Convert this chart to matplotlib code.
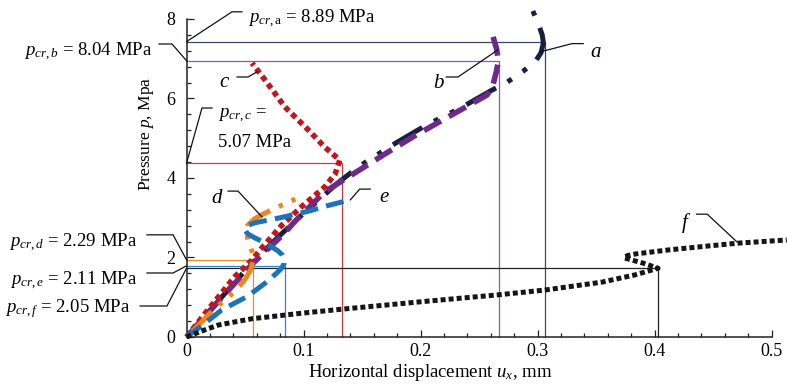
import matplotlib
matplotlib.use("Agg")
import matplotlib.pyplot as plt
from matplotlib.ticker import FixedLocator

plt.rcParams["font.family"] = ["Liberation Serif", "DejaVu Serif"]
plt.rcParams["mathtext.fontset"] = "custom"
plt.rcParams["mathtext.rm"] = "Liberation Serif"
plt.rcParams["mathtext.it"] = "Liberation Serif:italic"
plt.rcParams["lines.scale_dashes"] = False

# ---- load-displacement curves (u_x in mm, p in MPa) ----
ux_a = [0, 0.030, 0.054, 0.075, 0.094, 0.112, 0.129, 0.140, 0.154, 0.180, 0.205, 0.236, 0.261,
        0.274, 0.288, 0.299, 0.303, 0.305, 0.304, 0.301, 0.296]
p_a = [0, 1.00, 1.80, 2.42, 2.95, 3.42, 3.87, 4.12, 4.42, 4.90, 5.33, 5.79, 6.21,
       6.41, 6.69, 6.97, 7.15, 7.40, 7.60, 7.85, 8.20]

ux_b = [0, 0.035, 0.057, 0.084, 0.093, 0.118, 0.151, 0.171, 0.195, 0.219, 0.242, 0.257,
        0.262, 0.265, 0.2665, 0.265, 0.262]
p_b = [0, 1.15, 1.86, 2.62, 2.92, 3.65, 4.26, 4.63, 5.06, 5.46, 5.84, 6.09,
       6.35, 6.70, 6.95, 7.25, 7.55]

ux_c = [0, 0.016, 0.041, 0.056, 0.065, 0.081, 0.098, 0.118, 0.127, 0.131,
        0.118, 0.104, 0.084, 0.067, 0.056]
p_c = [0, 0.60, 1.51, 1.94, 2.26, 2.80, 3.27, 3.77, 4.10, 4.45,
       4.78, 5.21, 5.79, 6.47, 6.89]

ux_d = [0, 0.012, 0.024, 0.035, 0.043, 0.050, 0.055, 0.057, 0.056, 0.053, 0.051,
        0.052, 0.058, 0.066, 0.075, 0.084, 0.093]
p_d = [0, 0.35, 0.72, 0.98, 1.20, 1.45, 1.70, 1.95, 2.15, 2.40, 2.62,
       2.80, 2.97, 3.10, 3.23, 3.35, 3.47]

ux_e = [0, 0.016, 0.030, 0.052, 0.067, 0.076, 0.081, 0.0835, 0.0838, 0.082, 0.078, 0.072,
        0.065, 0.058, 0.052, 0.050, 0.052, 0.058, 0.068, 0.080, 0.092, 0.105, 0.120, 0.140]
p_e = [0, 0.35, 0.68, 1.02, 1.35, 1.58, 1.72, 1.85, 1.95, 2.06, 2.17, 2.28,
       2.40, 2.50, 2.60, 2.70, 2.80, 2.87, 2.93, 3.00, 3.08, 3.17, 3.30, 3.45]

ux_f = [0, 0.013, 0.027, 0.056, 0.099, 0.133, 0.198, 0.266, 0.306, 0.355, 0.383, 0.403,
        0.390, 0.374, 0.377, 0.384, 0.412, 0.446, 0.471, 0.513]
p_f = [0, 0.15, 0.30, 0.46, 0.60, 0.70, 0.88, 1.06, 1.18, 1.38, 1.56, 1.73,
       1.86, 1.99, 2.05, 2.09, 2.19, 2.29, 2.36, 2.44]

# ---- critical points ----
cases = ["a", "b", "c", "d", "e", "f"]
pcr_text = ["8.89", "8.04", "5.07", "2.29", "2.11", "2.05"]
u_cr = [0.306, 0.267, 0.1325, 0.057, 0.0838, 0.403]
p_level = [7.43, 6.95, 4.37, 1.94, 1.79, 1.73]

curve_colors = ["#17203f", "#6e2a8a", "#c1161d", "#f08519", "#1b73ba", "#151515"]
guide_colors = ["#3b4767", "#9058ad", "#cc3c3c", "#f08a22", "#2f86c8", "#222222"]

# dash patterns in points; curves a, b, d are traced from their far end
styles = [
    dict(lw=3.6, ls=(0, (3.6, 9.5, 24.5, 9.5, 3.6, 9.5)), rev=True),
    dict(lw=4.0, ls=(0, (14, 6.5)), rev=True),
    dict(lw=4.0, ls=(0, (4.0, 2.9)), rev=False),
    dict(lw=3.6, ls=(0, (3.0, 7.0, 3.0, 7.0, 20, 7.0)), rev=True),
    dict(lw=3.6, ls=(0, (13, 6))),
    dict(lw=3.6, ls=(0, (3.6, 2.2)), rev=False),
]
curves = [(ux_a, p_a), (ux_b, p_b), (ux_c, p_c), (ux_d, p_d), (ux_e, p_e), (ux_f, p_f)]

fig = plt.figure(figsize=(7.87, 3.85), dpi=100)
ax = fig.add_axes([0.237, 0.1247, 0.7627, 0.857])
ax.set_xlim(0, 0.513)
ax.set_ylim(0, 8.3)

# guide lines marking each critical point
for uc, pl, gc in zip(u_cr, p_level, guide_colors):
    ax.plot([0, uc, uc], [pl, pl, 0], color=gc, lw=0.9, zorder=2, clip_on=False)

draw_order = [5, 4, 3, 0, 1, 2]
for i in draw_order:
    x, y = curves[i]
    if styles[i].get("rev"):
        x, y = x[::-1], y[::-1]
    ax.plot(x, y, color=curve_colors[i], linewidth=styles[i]["lw"],
            linestyle=styles[i]["ls"], dash_capstyle="butt",
            solid_capstyle="butt", zorder=3 + i * 0.1, clip_on=False)

# spines and ticks
for s in ["top", "right"]:
    ax.spines[s].set_visible(False)
ax.spines["left"].set_bounds(0, 8)
ax.spines["bottom"].set_bounds(0, 0.5)
for s in ["left", "bottom"]:
    ax.spines[s].set_linewidth(1.1)
    ax.spines[s].set_color("#222222")

ax.xaxis.set_major_locator(FixedLocator([0, 0.1, 0.2, 0.3, 0.4, 0.5]))
ax.xaxis.set_minor_locator(FixedLocator([i * 0.02 for i in range(26)]))
ax.yaxis.set_major_locator(FixedLocator([0, 2, 4, 6, 8]))
ax.yaxis.set_minor_locator(FixedLocator([i * 0.4 for i in range(21)]))
ax.set_xticklabels(["0", "0.1", "0.2", "0.3", "0.4", "0.5"])
ax.set_yticklabels(["0", "2", "4", "6", "8"])
ax.tick_params(axis="both", which="both", direction="in", color="#222222", width=0.9,
               labelsize=13)
ax.tick_params(axis="both", which="major", length=5)
ax.tick_params(axis="both", which="minor", length=3.2)
ax.tick_params(axis="x", pad=4)
ax.tick_params(axis="y", pad=8)

ax.set_xlabel(r"Horizontal displacement $u_x$, mm", fontsize=13.5)
ax.set_ylabel(r"Pressure $p$, Mpa", fontsize=12.5)
ax.yaxis.set_label_coords(-0.051, 5.1 / 8.3)
ax.xaxis.set_label_coords((430 - 186.5) / 600.0, -0.075)

lk = dict(color="#111111", lw=0.9, clip_on=False, zorder=6)
fs_ann = 13.5

# critical pressure callouts
ax.plot([0, 0.0389, 0.0474], [7.43, 8.18, 8.18], **lk)
ax.text(0.0526, 7.90, r"$p_{cr,\mathrm{a}}$ = %s MPa" % pcr_text[0], fontsize=fs_ann)

ax.plot([0, -0.0124, -0.0235], [6.95, 7.37, 7.37], **lk)
ax.text(-0.0295, 7.07, r"$p_{cr,b}$ = %s MPa" % pcr_text[1], fontsize=fs_ann, ha="right")

ax.plot([0, 0.0132, 0.0218], [4.37, 5.76, 5.76], **lk)
ax.text(0.0269, 5.51, r"$p_{cr,c}$ =", fontsize=fs_ann)
ax.text(0.0269, 4.78, "%s MPa" % pcr_text[2], fontsize=fs_ann)

ax.plot([0, -0.0115, -0.0338], [1.94, 2.57, 2.57], **lk)
ax.text(-0.0423, 2.26, r"$p_{cr,d}$ = %s MPa" % pcr_text[3], fontsize=fs_ann, ha="right")

ax.plot([0, -0.0115, -0.0338], [1.79, 1.61, 1.61], **lk)
ax.text(-0.0423, 1.31, r"$p_{cr,e}$ = %s MPa" % pcr_text[4], fontsize=fs_ann, ha="right")

ax.plot([0, -0.0167, -0.0397], [1.73, 0.78, 0.78], **lk)
ax.text(-0.0483, 0.63, r"$p_{cr,f}$ = %s MPa" % pcr_text[5], fontsize=fs_ann, ha="right")

# curve labels
label_lines = {
    "a": ([0.302, 0.3295, 0.339], [7.17, 7.38, 7.38], (0.345, 7.04)),
    "b": ([0.266, 0.232, 0.222], [7.22, 6.54, 6.54], (0.2105, 6.26)),
    "c": ([0.0603, 0.0526, 0.0432], [6.67, 6.54, 6.54], (0.0278, 6.29)),
    "d": ([0.0645, 0.044, 0.0355], [3.02, 3.67, 3.67], (0.021, 3.37)),
    "e": ([0.140, 0.148, 0.157], [3.45, 3.72, 3.72], (0.1645, 3.40)),
    "f": ([0.4705, 0.445, 0.436], [2.39, 3.09, 3.09], (0.4235, 2.74)),
}
for name in cases:
    xs, ys, (tx, ty) = label_lines[name]
    ax.plot(xs, ys, **lk)
    ax.text(tx, ty, name, fontsize=15, style="italic")

fig.savefig("out.png", dpi=100)
